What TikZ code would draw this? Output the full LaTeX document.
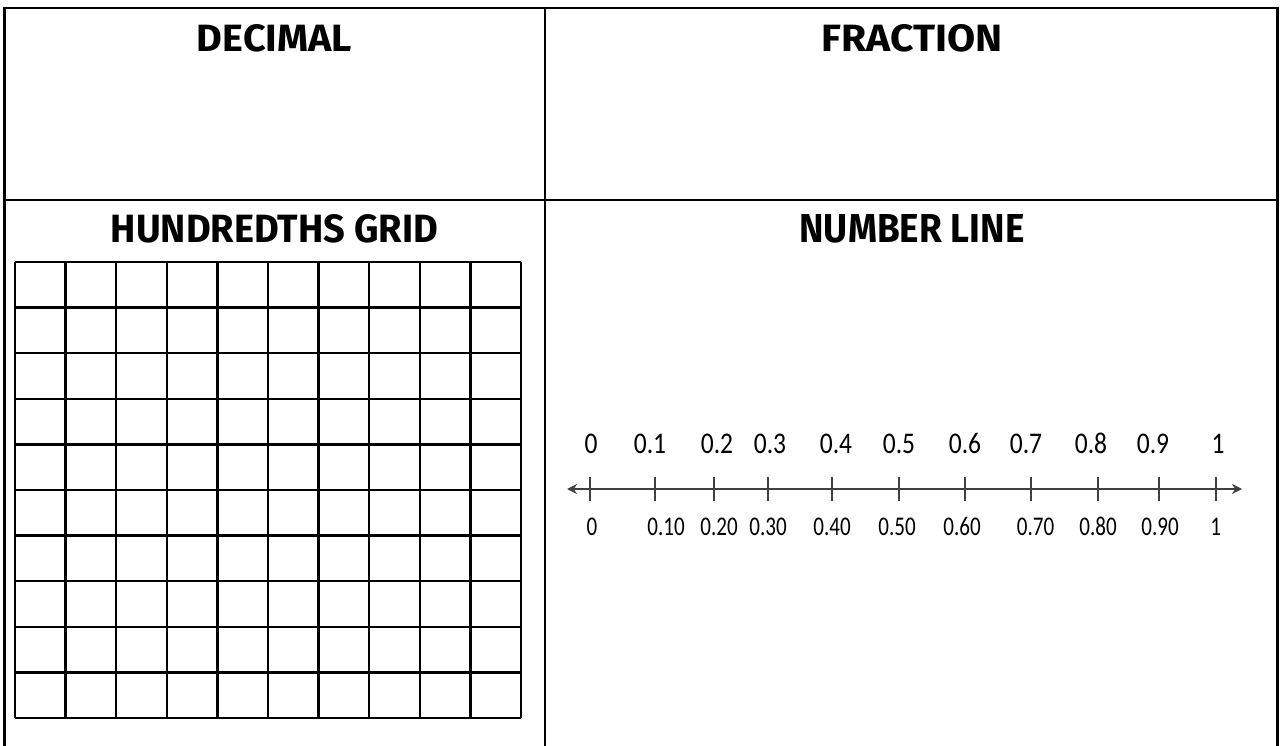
\documentclass[tikz,border=0pt]{standalone}
\usepackage{fontspec}
\usepackage{graphicx}
\setmainfont{Fira Sans}
\newfontfamily\numfont{Carlito}
\usetikzlibrary{arrows.meta}
\tikzset{
  frame/.style={line width=2.6pt, black},
  gridline/.style={line width=2.4pt, black},
  title/.style={inner sep=0pt, anchor=center},
  numtop/.style={inner sep=0pt, anchor=base, font=\numfont\fontsize{30}{31}\selectfont},
  numbot/.style={inner sep=0pt, anchor=base, font=\numfont\fontsize{27}{28}\selectfont},
  axis/.style={line width=2.6pt, black!75, {Stealth[length=10pt,width=10pt]}-{Stealth[length=10pt,width=10pt]}},
  tick/.style={line width=2pt, black!75}
}
\begin{document}
\begin{tikzpicture}[x=1pt,y=-1pt]
\useasboundingbox (0,0) rectangle (1284,746);
\fill[white] (0,0) rectangle (1284,746);
% frame
\coordinate (tl) at (4.5,8);
\coordinate (tr) at (1277.5,8);
\coordinate (bl) at (4.5,746);
\coordinate (br) at (1277.5,746);
\coordinate (mt) at (545,8);
\coordinate (mb) at (545,746);
\coordinate (hl) at (4.5,200);
\coordinate (hr) at (1277.5,200);
\draw[frame] (bl) -- (tl) -- (tr) -- (br);
\draw[frame, line width=2.2pt] (mt) -- (mb);
\draw[frame] (hl) -- (hr);
% titles
\node[title] (decimal) at (274.5,38) {\resizebox{155pt}{27pt}{\bfseries DECIMAL}};
\node[title] (fraction) at (912,38) {\resizebox{181pt}{27pt}{\bfseries FRACTION}};
\node[title] (hgrid) at (274.5,229) {\resizebox{327pt}{28pt}{\bfseries HUNDREDTHS GRID}};
\node[title] (nline) at (912,229) {\resizebox{225pt}{28pt}{\bfseries NUMBER LINE}};
% hundredths grid
\foreach \i in {0,...,10} {
  \draw[gridline] ({15+\i*50.6},262) -- ({15+\i*50.6},718);
  \draw[gridline] (15,{262+\i*45.6}) -- (521,{262+\i*45.6});
}
% number line
\coordinate (al) at (567,489);
\coordinate (ar) at (1242,489);
\draw[axis] (al) -- (ar);
\foreach \x/\n in {590/t0,654.6/t1,713.7/t2,767.8/t3,831.5/t4,899.3/t5,965.4/t6,1031/t7,1098/t8,1159/t9,1215.6/t10} {
  \coordinate (\n a) at (\x,476.5);
  \coordinate (\n b) at (\x,501);
  \draw[tick] (\n a) -- (\n b);
}
\foreach \x/\t/\n in {591/0/u0,650/0.1/u1,717/0.2/u2,770/0.3/u3,836/0.4/u4,899/0.5/u5,965/0.6/u6,1026/0.7/u7,1091/0.8/u8,1153/0.9/u9,1218/1/u10} {
  \node[numtop] (\n) at (\x,453.5) {\scalebox{0.85}[1]{\t}};
}
\foreach \x/\t/\n in {592/0/b0,666/0.10/b1,719/0.20/b2,768/0.30/b3,832/0.40/b4,897/0.50/b5,962/0.60/b6,1035.5/0.70/b7,1098/0.80/b8,1160/0.90/b9,1215.6/1/b10} {
  \node[numbot] (\n) at (\x,535.5) {\scalebox{0.78}[1]{\t}};
}
\end{tikzpicture}
\end{document}
